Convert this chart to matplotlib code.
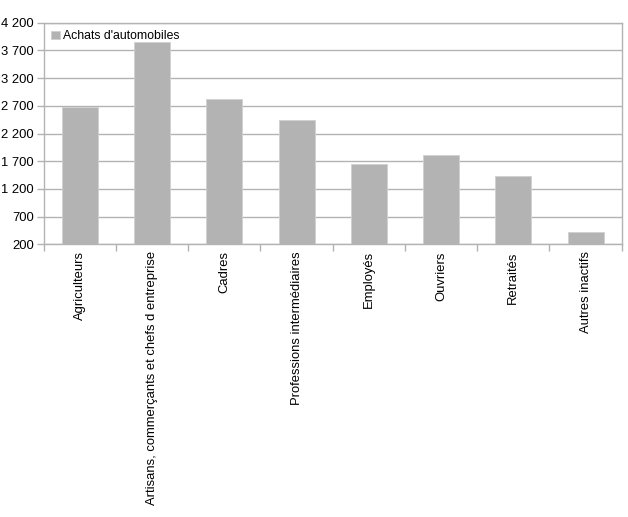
import numpy as np
import matplotlib.pyplot as plt
from matplotlib.ticker import FixedLocator, FuncFormatter

plt.rcParams['font.family'] = ['Liberation Sans', 'DejaVu Sans']

categories = ['Agriculteurs', 'Artisans, commerçants et chefs d entreprise', 'Cadres',
              'Professions intermédiaires', 'Employés', 'Ouvriers', 'Retraités',
              'Autres inactifs']
achats = [2680, 3845, 2825, 2445, 1655, 1810, 1425, 415]
yticks = [200, 700, 1200, 1700, 2200, 2700, 3200, 3700, 4200]
series_name = "Achats d'automobiles"

grey = '#b3b3b3'
fig = plt.figure(figsize=(6.28, 5.17), dpi=100)
ax = fig.add_axes([0.0696, 0.5275, 0.9204, 0.4285])

x = np.arange(len(categories))
base = yticks[0]
ax.bar(x, np.array(achats) - base, bottom=base, width=0.5, color=grey,
       edgecolor='#d0d0d0', linewidth=0.6, label=series_name, zorder=3)

ax.set_xlim(-0.5, len(categories) - 0.5)
ax.set_ylim(yticks[0], yticks[-1])
ax.set_yticks(yticks)
ax.yaxis.set_major_formatter(FuncFormatter(lambda v, p: f'{int(v):,}'.replace(',', ' ')))
ax.grid(axis='y', color=grey, linewidth=1, zorder=0)

ax.set_xticks(x)
ax.set_xticklabels(categories, rotation=90, va='top', ha='center')
ax.tick_params(axis='x', which='major', length=0, pad=5, labelsize=9.4)
ax.xaxis.set_minor_locator(FixedLocator(np.arange(-0.5, len(categories), 1)))
ax.tick_params(axis='x', which='minor', length=5, color=grey, width=1)
ax.tick_params(axis='y', length=5, color=grey, width=1, pad=2, labelsize=9.4)

for s in ax.spines.values():
    s.set_color(grey)
    s.set_linewidth(1)

leg = ax.legend(loc='upper left', frameon=False, fontsize=8.8, handlelength=0.7,
                handleheight=0.7, handletextpad=0.25, borderaxespad=0.2,
                bbox_to_anchor=(0.0, 1.0))

fig.savefig('out.png', dpi=100)
